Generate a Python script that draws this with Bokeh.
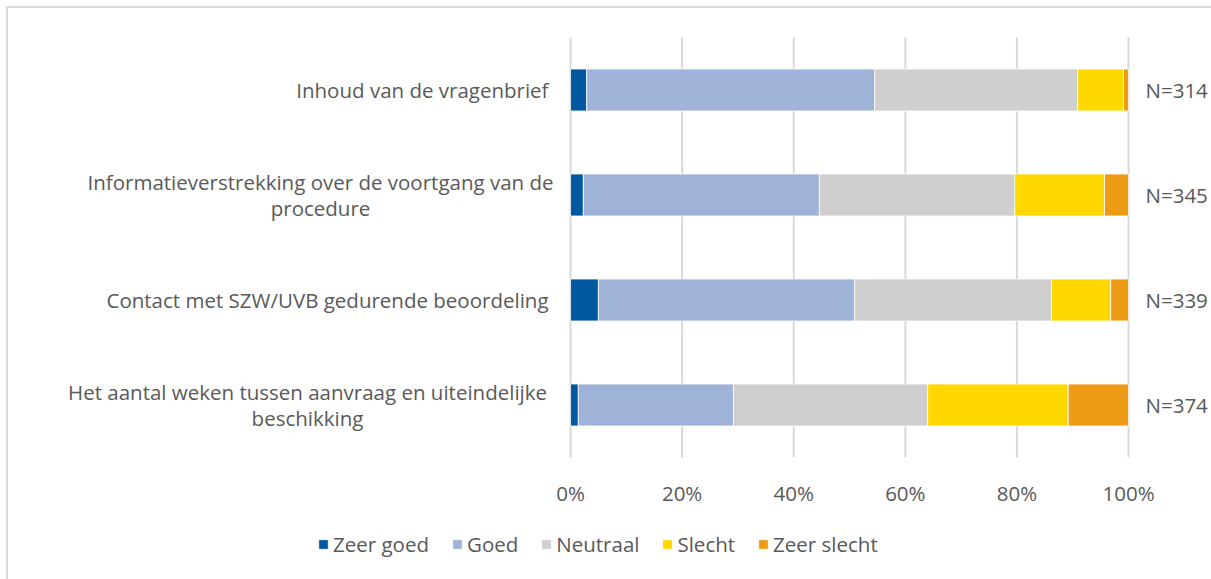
from bokeh.plotting import figure
from bokeh.models import (Range1d, Legend, LegendItem, ColumnDataSource, InlineStyleSheet)
from bokeh.core.properties import value
from bokeh.embed import file_html
from bokeh.resources import INLINE

# ---- data ----
categories = [
    "Inhoud van de vragenbrief",
    "Informatieverstrekking over de voortgang van de\nprocedure",
    "Contact met SZW/UVB gedurende beoordeling",
    "Het aantal weken tussen aanvraag en uiteindelijke\nbeschikking",
]
n_labels = ["N=314", "N=345", "N=339", "N=374"]
series = ["Zeer goed", "Goed", "Neutraal", "Slecht", "Zeer slecht"]
zeer_goed = [2.9, 2.3, 5.0, 1.4]
goed = [51.6, 42.3, 45.9, 27.8]
neutraal = [36.4, 35.0, 35.3, 34.8]
slecht = [8.2, 16.1, 10.6, 25.2]
zeer_slecht = [0.9, 4.3, 3.2, 10.8]
tick_values = [0, 20, 40, 60, 80, 100]
tick_labels = ["0%", "20%", "40%", "60%", "80%", "100%"]

# ---- style ----
colors = ["#00599F", "#9FB3D8", "#D0CECE", "#FFD800", "#EE9B16"]
FONT = "Open Sans"
TXT = "#595959"
FS = "20.5px"
SLOT = 105.0          # px per category row
TOP_PAD = 29.0        # px between canvas top and first row
FRAME_H = 571
FRAME_W = 1203

n_cat = len(categories)
y_pos = [i + 0.5 for i in range(n_cat)]          # row centres, 0 = top of bar area

src = ColumnDataSource(dict(
    y=y_pos, cat=categories, n=n_labels, x100=[100] * n_cat,
    **{s: v for s, v in zip(series, [zeer_goed, goed, neutraal, slecht, zeer_slecht])}))

one = [(c, y) for c, y in zip(categories, y_pos) if "\n" not in c]
two = [(c, y) for c, y in zip(categories, y_pos) if "\n" in c]
src1 = ColumnDataSource(dict(cat=[c for c, _ in one], y=[y for _, y in one], x0=[0] * len(one)))
src2 = ColumnDataSource(dict(cat=[c for c, _ in two], y=[y for _, y in two], x0=[0] * len(two),
                             xoff=[-250, -263]))
grid_src = ColumnDataSource(dict(x=tick_values, y0=[0] * len(tick_values), y1=[n_cat] * len(tick_values)))
tick_src = ColumnDataSource(dict(x=tick_values, y=[n_cat + 35 / SLOT] * len(tick_values), t=tick_labels))

p = figure(frame_width=FRAME_W, frame_height=FRAME_H, output_backend="svg", toolbar_location=None,
           x_axis_type=None, y_axis_type=None,
           x_range=Range1d(-100.72, 114.87),
           y_range=Range1d((FRAME_H - TOP_PAD) / SLOT, -TOP_PAD / SLOT),
           min_border=0)
p.margin = (6, 0, 0, 6)
p.stylesheets = [InlineStyleSheet(css=":host { border-left: 2px solid #d9d9d9; border-top: 2px solid #d9d9d9; }")]
p.outline_line_color = None

# vertical gridlines over the bar area
p.segment(x0="x", y0="y0", x1="x", y1="y1", source=grid_src, line_color="#d9d9d9", line_width=2)

rs = p.hbar_stack(series, y="y", height=0.4, color=colors, source=src,
                  line_color="white", line_width=0.8)

p.text(x="x0", y="y", text="cat", source=src1, x_offset=-22,
       text_align="right", text_baseline="middle",
       text_font=value(FONT), text_font_size=FS, text_color=TXT)
p.text(x="x0", y="y", text="cat", source=src2, x_offset="xoff",
       text_align="center", text_baseline="middle", text_line_height=0.95,
       text_font=value(FONT), text_font_size=FS, text_color=TXT)
p.text(x="x100", y="y", text="n", source=src, x_offset=17,
       text_align="left", text_baseline="middle",
       text_font=value(FONT), text_font_size=FS, text_color=TXT)
p.text(x="x", y="y", text="t", source=tick_src,
       text_align="center", text_baseline="middle",
       text_font=value(FONT), text_font_size=FS, text_color=TXT)

legend = Legend(items=[LegendItem(label=s, renderers=[r]) for s, r in zip(series, rs)],
                orientation="horizontal", location=(309, 21),
                label_text_font=FONT, label_text_font_size=FS, label_text_color=TXT,
                glyph_width=12, glyph_height=12, label_standoff=4, spacing=22,
                background_fill_alpha=0, border_line_color=None, padding=0, margin=0)
p.add_layout(legend, "center")

open("out.html", "w").write(file_html(p, INLINE))
